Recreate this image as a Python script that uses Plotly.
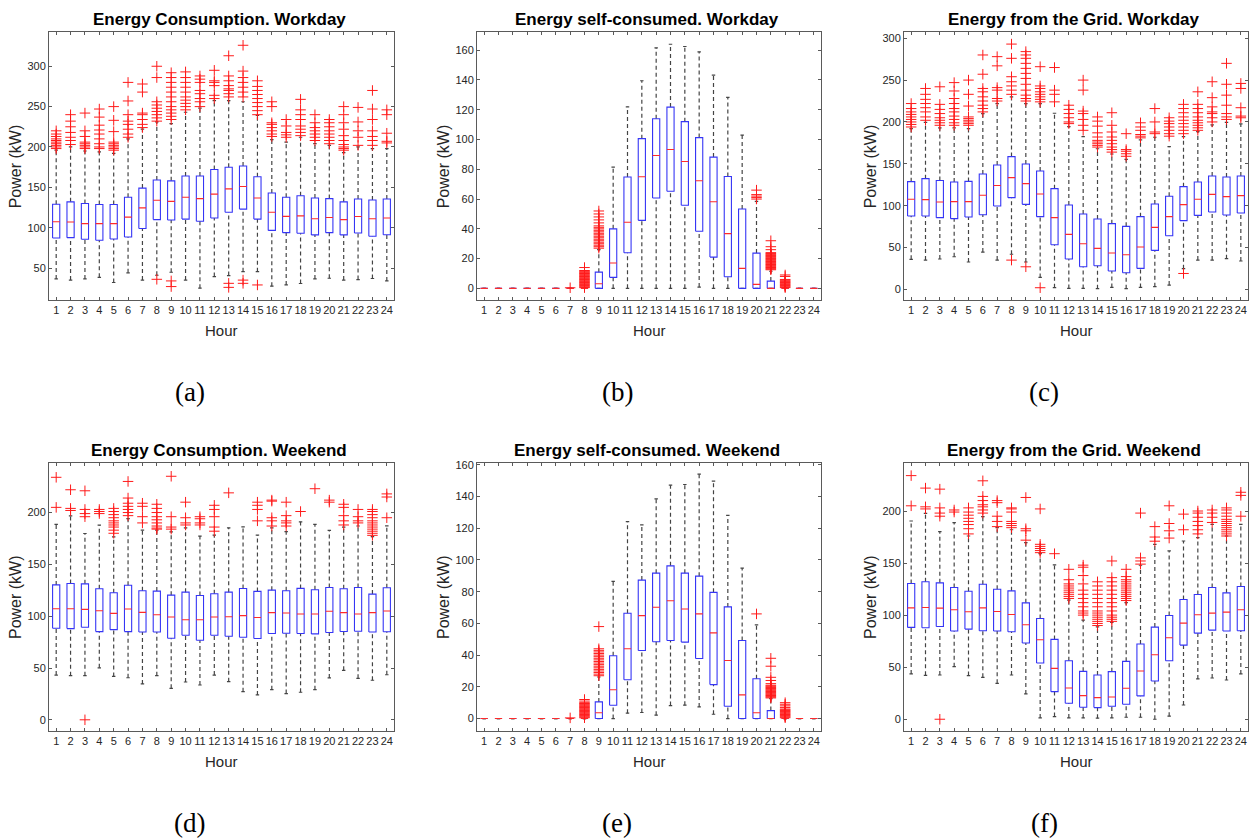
import plotly.graph_objects as go

W, H = 1259, 839
hours = list(range(1, 25))
hour_labels = [str(h) for h in hours]

# ---------------- (a) Energy consumption, workday ----------------
cons_wd_lo = [36.5, 35, 36.5, 38.5, 32, 44, 35, 41, 44.7, 35, 25, 39.4, 40.6, 45.5, 45.5, 27.5, 29, 30.8, 36.5, 37.3, 35, 35.7, 37, 34]
cons_wd_q1 = [87.2, 87.6, 85.6, 84.4, 86, 88.5, 99, 110, 109.4, 110.6, 108, 112, 119, 123, 110.6, 96.6, 93.8, 93, 91, 93.8, 91, 93.4, 89.3, 91.2]
cons_wd_med = [107.3, 107, 105, 105, 105, 113, 124.5, 134, 132.6, 137.6, 136, 141.6, 148, 151, 136.7, 119, 114, 114.6, 111, 112.6, 110, 113.8, 111, 112]
cons_wd_q3 = [129, 132, 130, 128.6, 128.6, 137.6, 149, 159, 158, 164, 164, 172, 174.8, 176.4, 163, 143, 137.6, 139.6, 136.7, 136, 132, 135.5, 134.3, 135.5]
cons_wd_hi = [196, 200, 195, 194, 192, 210, 222, 231, 229, 243, 248, 257.5, 257.5, 256, 239, 209, 206, 212, 204, 202, 193, 200, 198, 198]
cons_wd_out = [
    [198, 200, 202, 204, 206, 208, 210, 213, 216, 220],
    [203, 208, 212, 218, 225, 232, 240],
    [198, 200, 202, 204, 206, 213, 220, 242],
    [198, 200, 204, 210, 216, 221, 227, 237, 247],
    [196, 198, 200, 202, 204, 206, 219, 233, 250],
    [212, 216, 222, 228, 232, 240, 257, 280],
    [224, 228, 234, 240, 242, 268, 278],
    [36, 232, 236, 240, 244, 248, 252, 256, 286, 300],
    [27, 34, 234, 238, 242, 246, 250, 256, 262, 268, 274, 280, 286, 292],
    [246, 250, 254, 258, 262, 268, 274, 280, 286, 293],
    [250, 256, 260, 266, 270, 280, 284, 288],
    [260, 264, 276, 280, 282, 295],
    [26, 31, 262, 266, 270, 272, 276, 282, 288, 313],
    [31, 35, 262, 268, 274, 280, 286, 294, 326],
    [29, 240, 245, 250, 255, 260, 265, 270, 275, 282],
    [213, 216, 220, 224, 228, 230, 250, 256],
    [212, 215, 218, 226, 234],
    [214, 218, 222, 226, 234, 240, 246, 259],
    [208, 212, 216, 220, 224, 230, 240],
    [204, 208, 212, 216, 220, 225, 230, 234],
    [196, 198, 200, 203, 208, 214, 222, 230, 240, 250],
    [202, 212, 220, 231, 249],
    [202, 208, 213, 220, 234, 247, 270],
    [205, 207, 217, 240, 246],
]

# ---------------- (b) Energy self-consumed, workday ----------------
self_wd_lo = [0, 0, 0, 0, 0, 0, 0, 0, 0, 0, 0, 0, 0, 0, 0, 0.9, 0, 0, 0, 0, 0, 0, 0, 0]
self_wd_q1 = [0, 0, 0, 0, 0, 0, 0, 0, 0, 7.4, 23.9, 45.7, 60.7, 65.2, 55.8, 38.4, 21, 7.8, 0, 0, 0, 0, 0, 0]
self_wd_med = [0, 0, 0, 0, 0, 0, 0, 0, 3.1, 17, 44.4, 75, 89.3, 93.3, 85.2, 72.3, 58.2, 36.8, 13.4, 2.7, 0, 0, 0, 0]
self_wd_q3 = [0, 0, 0, 0, 0, 0, 0, 0, 10.9, 40, 74.8, 100.6, 114, 121.8, 112, 101.3, 88.2, 75.2, 53.3, 23.7, 4.9, 0, 0, 0]
self_wd_hi = [0, 0, 0, 0, 0, 0, 0, 0, 26, 81.5, 122, 139.5, 161.6, 164, 162.5, 158.9, 143.3, 128.3, 103, 58.5, 11.5, 0, 0, 0]
self_wd_out = [
    [], [], [], [], [], [],
    [0.4],
    [0.5, 1, 1.5, 2, 2.5, 3, 3.5, 4, 4.5, 5, 5.5, 6, 6.5, 7, 7.5, 8, 8.5, 9, 9.5, 10, 10.5, 11, 11.5, 12, 14],
    [27, 28, 29, 30, 31, 32, 33, 34, 35, 36, 37, 38, 39, 40, 41, 42, 44, 46, 48, 50, 52],
    [], [], [], [], [], [], [], [], [], [],
    [60, 61, 62, 63, 66],
    [12.5, 13, 13.5, 14, 14.5, 15, 15.5, 16, 16.5, 17, 17.5, 18, 18.5, 19, 19.5, 20, 20.5, 21, 21.5, 22, 22.5, 23, 23.5, 24, 26, 28, 32],
    [0.5, 1, 1.5, 2, 2.5, 3, 3.5, 4, 4.5, 5, 5.5, 6, 8, 9],
    [], [],
]

# ---------------- (c) Energy from the grid, workday ----------------
grid_wd_lo = [35.9, 35, 36.3, 39, 32.7, 44.6, 35, 42, 32.7, 14.3, 2, 1.2, 1.2, 0.8, 2.4, 0.8, 2.4, 3.2, 5.2, 24.7, 35, 35, 36.7, 33.9]
grid_wd_q1 = [87.6, 87.6, 85.7, 84.5, 86.5, 89.2, 99.6, 109.6, 101.6, 86.9, 53.4, 36.3, 27.1, 28.3, 21.9, 19.9, 25.1, 46.6, 64.1, 82.1, 88.4, 92.4, 88.8, 91.2]
grid_wd_med = [107.6, 107.2, 104.4, 104.8, 104.8, 112.4, 124, 133.5, 126.3, 114, 85.7, 65.7, 54.6, 49, 43.4, 41.4, 50.6, 74.1, 86.9, 101.2, 107.6, 113.5, 110.8, 112]
grid_wd_q3 = [128.7, 132.3, 130, 128.3, 129, 137.8, 148.6, 158.6, 149.8, 141.4, 120.3, 100.8, 90, 84, 78.5, 75.3, 86.9, 102, 111.2, 122.7, 128.3, 135.5, 134.3, 135.5]
grid_wd_hi = [192, 199.6, 193, 193, 192, 210, 222, 230, 222, 222, 210.4, 194.4, 182.5, 168, 161.7, 155.4, 178.5, 181.7, 170.5, 182.5, 188.4, 196.4, 199.6, 197.6]
grid_wd_out = [
    [194, 197, 200, 203, 206, 209, 212, 216, 222],
    [202, 206, 212, 217, 222, 227, 233, 240],
    [196, 199, 202, 205, 210, 215, 221, 242],
    [196, 199, 203, 207, 212, 216, 222, 228, 237, 247],
    [196, 198, 200, 202, 204, 206, 219, 233, 250],
    [212, 216, 220, 225, 230, 236, 240, 257, 280],
    [225, 228, 238, 241, 267, 278],
    [35, 233, 238, 243, 248, 254, 276, 293],
    [27, 225, 228, 232, 238, 245, 252, 258, 264, 270, 276, 280, 284],
    [2, 224, 227, 230, 233, 236, 240, 243, 266],
    [224, 233, 238, 265],
    [198, 200, 205, 210, 215, 220],
    [190, 196, 203, 210, 213, 238, 250],
    [170, 172, 174, 176, 178, 182, 187, 195, 201, 206],
    [164, 167, 170, 174, 178, 182, 188, 196, 211],
    [159, 162, 165, 167, 186],
    [181, 183, 185, 190, 194, 199],
    [186, 188, 200, 216],
    [183, 186, 190, 194, 198, 201, 205],
    [19, 186, 190, 194, 198, 202, 206, 211, 216, 221],
    [190, 193, 196, 199, 202, 206, 211, 216, 221, 236],
    [200, 205, 210, 212, 218, 229, 248],
    [203, 206, 210, 220, 232, 245, 270],
    [205, 207, 217, 240, 246],
]

# ---------------- (d) Energy consumption, weekend ----------------
cons_we_lo = [43.2, 42.6, 42.6, 50.2, 41.9, 40.6, 34.6, 42.6, 30.4, 36.5, 33.6, 43.2, 36.8, 27.2, 24, 29.1, 25.3, 26.6, 29.1, 40.4, 47.8, 40, 38.2, 43.5]
cons_we_q1 = [88.3, 88, 89.3, 85.1, 87, 85.1, 84.8, 84.8, 78.7, 81.6, 76.8, 81.6, 80.6, 79.7, 78.4, 83.3, 83.5, 83.3, 82.9, 84.2, 85.2, 85.5, 84.8, 85]
cons_we_med = [107.2, 107.2, 106.6, 105.3, 102.7, 106.9, 103.7, 101.4, 99.2, 96.6, 96.6, 99.2, 99.5, 100.5, 98.7, 103.4, 103.1, 102.1, 102.1, 104.7, 103.4, 102.1, 103.4, 105]
cons_we_q3 = [130.2, 131.5, 131.2, 126.4, 122.6, 129.9, 124.5, 124.2, 120.3, 123.2, 120, 121.6, 123.2, 126.7, 123.9, 125.1, 124.5, 126.8, 125.5, 127.7, 126.5, 127.7, 121.3, 127.5]
cons_we_hi = [188.5, 196.8, 179.8, 187.8, 176.6, 194.2, 183, 183, 181.4, 185.3, 177.3, 178.2, 185.3, 186.2, 178.3, 185.3, 181.5, 191, 188.5, 182.7, 186, 187, 176.7, 187.2]
cons_we_out = [
    [205, 234],
    [202, 204, 222],
    [0, 196, 199, 203, 221],
    [199, 201, 203],
    [180, 183, 186, 188, 190, 192, 195, 198, 201, 204],
    [197, 200, 203, 206, 209, 214, 230],
    [190, 196, 206, 209],
    [184, 185, 187, 190, 193, 196, 200, 204, 208],
    [184, 186, 196, 235],
    [188, 190, 195, 210],
    [188, 190, 194, 196],
    [182, 186, 196, 203, 207],
    [219],
    [],
    [192, 203, 207, 210],
    [187, 192, 195, 211, 212],
    [187, 190, 192, 197, 210],
    [201],
    [223],
    [210, 212],
    [188, 192, 197, 205, 208],
    [190, 192, 196, 203],
    [178, 180, 182, 184, 186, 188, 190, 192, 195, 198, 201, 203],
    [195, 215, 218],
]

# ---------------- (e) Energy self-consumed, weekend ----------------
self_we_lo = [0, 0, 0, 0, 0, 0, 0, 0, 0, 0, 3.4, 3.8, 2.1, 8.2, 8.4, 7.3, 2.7, 0, 0, 0, 0, 0, 0, 0]
self_we_q1 = [0, 0, 0, 0, 0, 0, 0, 0, 0, 8.4, 24.5, 42.9, 48.4, 49.2, 48.2, 37.9, 21.4, 7.7, 0, 0, 0, 0, 0, 0]
self_we_med = [0, 0, 0, 0, 0, 0, 0, 0, 3.6, 18.2, 44, 64.9, 70.2, 74.3, 69.1, 66, 54, 36.6, 14.9, 3.6, 0, 0, 0, 0]
self_we_q3 = [0, 0, 0, 0, 0, 0, 0, 0, 10.5, 39.6, 66.4, 87.3, 91.7, 96.3, 91.7, 89.8, 79.6, 70.4, 49.2, 25.1, 5, 0, 0, 0]
self_we_hi = [0, 0, 0, 0, 0, 0, 0, 0, 26.2, 86.5, 124.2, 122.1, 138.6, 147.2, 147.6, 154.1, 149.7, 128.2, 94.9, 59.1, 12.5, 0, 0, 0]
self_we_out = [
    [], [], [], [], [], [],
    [0.4],
    [0.5, 1, 1.5, 2, 2.5, 3, 3.5, 4, 4.5, 5, 5.5, 6, 6.5, 7, 7.5, 8, 8.5, 9, 9.5, 10, 11, 12],
    [27, 28, 29, 30, 31, 32, 33, 34, 35, 36, 37, 38, 39, 40, 41, 42, 43, 44, 58],
    [], [], [], [], [], [], [], [], [], [],
    [66],
    [13, 13.5, 14, 14.5, 15, 15.5, 16, 16.5, 17, 17.5, 18, 18.5, 19, 19.5, 20, 20.5, 21, 22, 24, 26, 33, 38],
    [0.5, 1, 1.5, 2, 2.5, 3, 3.5, 4, 4.5, 5, 5.5, 6, 7, 8, 9, 10],
    [], [],
]

# ---------------- (f) Energy from the grid, weekend ----------------
grid_we_lo = [43.5, 42.2, 42.5, 50.5, 41.9, 40.3, 34.5, 42.5, 24.3, 1.3, 2.6, 1.3, 1.3, 1, 1.3, 1.9, 1.9, 0, 2.9, 13.7, 38.7, 39.6, 37.7, 43.5]
grid_we_q1 = [88.2, 87.9, 89.1, 84.7, 86.6, 85, 84.7, 84, 73.2, 54, 26.5, 15.3, 11.5, 11.2, 12.5, 14.4, 22.4, 36.7, 56.2, 71.2, 82.7, 85.6, 84.7, 85]
grid_we_med = [107, 107.3, 106.7, 105.1, 103.2, 107, 103.5, 100.6, 90.7, 76.4, 48.9, 30, 22.7, 20.8, 21.4, 29.7, 46.3, 62, 78.3, 92.3, 100.3, 101.9, 102.9, 105.1]
grid_we_q3 = [130.4, 132, 131, 126.5, 123, 129.7, 124.9, 123.3, 111.8, 96.8, 76.7, 56.2, 46, 42.5, 45.7, 55.6, 72.2, 88.5, 99.7, 115, 119.8, 126.5, 121.4, 127.5]
grid_we_hi = [190.4, 197.8, 180.2, 188.8, 176, 194.6, 184, 182, 169.6, 159.1, 148.2, 114.4, 95.2, 88.8, 93, 112.1, 147.9, 168, 161.7, 171.2, 174.4, 187.2, 176, 187.2]
grid_we_out = [
    [205, 234],
    [202, 204, 222],
    [0, 195, 198, 203, 221],
    [199, 201],
    [178, 183, 187, 190, 193, 196, 199, 203],
    [198, 201, 204, 206, 210, 214, 229],
    [185, 190, 195, 208, 210],
    [184, 186, 188, 190, 199, 202, 203],
    [172, 181, 183, 213],
    [160, 162, 164, 166, 168, 202],
    [159],
    [116, 118, 120, 122, 124, 126, 128, 130, 134, 144],
    [100, 102, 104, 108, 112, 116, 120, 124, 130, 138, 146, 148],
    [90, 92, 94, 96, 98, 100, 102, 104, 108, 112, 116, 120, 124, 128, 132],
    [94, 96, 98, 100, 104, 108, 112, 116, 120, 124, 128, 132, 136, 152],
    [114, 116, 118, 120, 122, 124, 126, 128, 130, 132, 134, 137, 144],
    [149, 152, 155, 198],
    [171, 175, 185],
    [174, 181, 188, 205],
    [182, 197],
    [178, 182, 186, 190, 194, 198, 200],
    [189, 194, 198, 201],
    [176, 178, 180, 182, 184, 186, 188, 190, 192, 195, 198, 201, 203],
    [195, 215, 218],
]

panels = [
    dict(title="Energy Consumption. Workday", tag="(a)",
         stats=(cons_wd_lo, cons_wd_q1, cons_wd_med, cons_wd_q3, cons_wd_hi), out=cons_wd_out,
         yrange=[10, 342], yticks=[50, 100, 150, 200, 250, 300]),
    dict(title="Energy self-consumed. Workday", tag="(b)",
         stats=(self_wd_lo, self_wd_q1, self_wd_med, self_wd_q3, self_wd_hi), out=self_wd_out,
         yrange=[-8, 172], yticks=[0, 20, 40, 60, 80, 100, 120, 140, 160]),
    dict(title="Energy from the Grid. Workday", tag="(c)",
         stats=(grid_wd_lo, grid_wd_q1, grid_wd_med, grid_wd_q3, grid_wd_hi), out=grid_wd_out,
         yrange=[-13, 307], yticks=[0, 50, 100, 150, 200, 250, 300]),
    dict(title="Energy Consumption. Weekend", tag="(d)",
         stats=(cons_we_lo, cons_we_q1, cons_we_med, cons_we_q3, cons_we_hi), out=cons_we_out,
         yrange=[-11, 248], yticks=[0, 50, 100, 150, 200]),
    dict(title="Energy self-consumed. Weekend", tag="(e)",
         stats=(self_we_lo, self_we_q1, self_we_med, self_we_q3, self_we_hi), out=self_we_out,
         yrange=[-8, 161.3], yticks=[0, 20, 40, 60, 80, 100, 120, 140, 160]),
    dict(title="Energy from the Grid. Weekend", tag="(f)",
         stats=(grid_we_lo, grid_we_q1, grid_we_med, grid_we_q3, grid_we_hi), out=grid_we_out,
         yrange=[-11.5, 246.3], yticks=[0, 50, 100, 150, 200]),
]

# plot-area placement in pixels
col_px = [(49, 394), (477, 821), (904, 1248)]
row_px = [(28.5, 297.7), (461, 730.7)]

BOX_HALF = 0.25
CAP_HALF = 0.12
AXIS_COLOR = "#5a5a5a"
TEXT_COLOR = "#262626"
SANS = "Liberation Sans, Arial, sans-serif"
SERIF = "Liberation Serif, Times New Roman, serif"


def px_x(p):
    return p / W


def px_y(p):
    return 1 - p / H


fig = go.Figure()
annotations = []
layout_axes = {}

for i, p in enumerate(panels):
    r, c = divmod(i, 3)
    k = i + 1
    xa = "x" if k == 1 else f"x{k}"
    ya = "y" if k == 1 else f"y{k}"
    lo, q1, med, q3, hi = p["stats"]

    wx, wy, cx, cy, bx, by, mx, my, ox, oy = [], [], [], [], [], [], [], [], [], []
    for j, h in enumerate(hours):
        # whiskers
        wx += [h, h, None, h, h, None]
        wy += [q3[j], hi[j], None, lo[j], q1[j], None]
        # whisker caps
        cx += [h - CAP_HALF, h + CAP_HALF, None, h - CAP_HALF, h + CAP_HALF, None]
        cy += [hi[j], hi[j], None, lo[j], lo[j], None]
        # box
        bx += [h - BOX_HALF, h + BOX_HALF, h + BOX_HALF, h - BOX_HALF, h - BOX_HALF, None]
        by += [q1[j], q1[j], q3[j], q3[j], q1[j], None]
        # median
        mx += [h - BOX_HALF, h + BOX_HALF, None]
        my += [med[j], med[j], None]
        # outliers
        for v in p["out"][j]:
            ox.append(h)
            oy.append(v)

    common = dict(xaxis=xa, yaxis=ya, showlegend=False, hoverinfo="skip")
    fig.add_trace(go.Scatter(x=wx, y=wy, mode="lines",
                             line=dict(color="#444444", width=1.2, dash="4px,3px"), **common))
    fig.add_trace(go.Scatter(x=cx, y=cy, mode="lines",
                             line=dict(color="#444444", width=1.2), **common))
    fig.add_trace(go.Scatter(x=bx, y=by, mode="lines",
                             line=dict(color="#3535f5", width=1.1), **common))
    fig.add_trace(go.Scatter(x=mx, y=my, mode="lines",
                             line=dict(color="#ff2a2a", width=1.1), **common))
    fig.add_trace(go.Scatter(x=ox, y=oy, mode="markers",
                             marker=dict(symbol="cross-thin", size=7.5,
                                         line=dict(color="#ff1a1a", width=1)),
                             **common))

    x0, x1 = col_px[c]
    y0, y1 = row_px[r]
    axis_common = dict(showline=True, linecolor=AXIS_COLOR, linewidth=1, mirror="ticks",
                       ticks="inside", ticklen=3, tickcolor=AXIS_COLOR, tickwidth=1,
                       showgrid=False, zeroline=False,
                       tickfont=dict(family=SANS, size=11, color=TEXT_COLOR))
    layout_axes["xaxis" if k == 1 else f"xaxis{k}"] = dict(
        domain=[px_x(x0), px_x(x1)], anchor=ya, range=[0.5, 24.5],
        tickmode="array", tickvals=hours, ticktext=hour_labels, **axis_common)
    layout_axes["yaxis" if k == 1 else f"yaxis{k}"] = dict(
        domain=[px_y(y1), px_y(y0)], anchor=xa, range=p["yrange"],
        tickmode="array", tickvals=p["yticks"], **axis_common)

    xc = (x0 + x1) / 2
    annotations.append(dict(text=f"<b>{p['title']}</b>", x=px_x(xc - 2), y=px_y(y0 - 12.5),
                            xref="paper", yref="paper", showarrow=False,
                            xanchor="center", yanchor="middle",
                            font=dict(family=SANS, size=17, color="#000000")))
    annotations.append(dict(text="Hour", x=px_x(xc), y=px_y(y1 + 30.5),
                            xref="paper", yref="paper", showarrow=False,
                            xanchor="center", yanchor="middle",
                            font=dict(family=SANS, size=15, color=TEXT_COLOR)))
    annotations.append(dict(text="Power (kW)", x=px_x(x0 - 34), y=px_y((y0 + y1) / 2),
                            xref="paper", yref="paper", showarrow=False, textangle=-90,
                            xanchor="center", yanchor="middle",
                            font=dict(family=SANS, size=16, color=TEXT_COLOR)))
    annotations.append(dict(text=p["tag"], x=px_x(xc - 32), y=px_y(y1 + 92),
                            xref="paper", yref="paper", showarrow=False,
                            xanchor="center", yanchor="middle",
                            font=dict(family=SERIF, size=27, color="#000000")))

fig.update_layout(width=W, height=H, margin=dict(l=0, r=0, t=0, b=0),
                  paper_bgcolor="white", plot_bgcolor="white",
                  annotations=annotations, **layout_axes)

fig.write_html("out.html")
